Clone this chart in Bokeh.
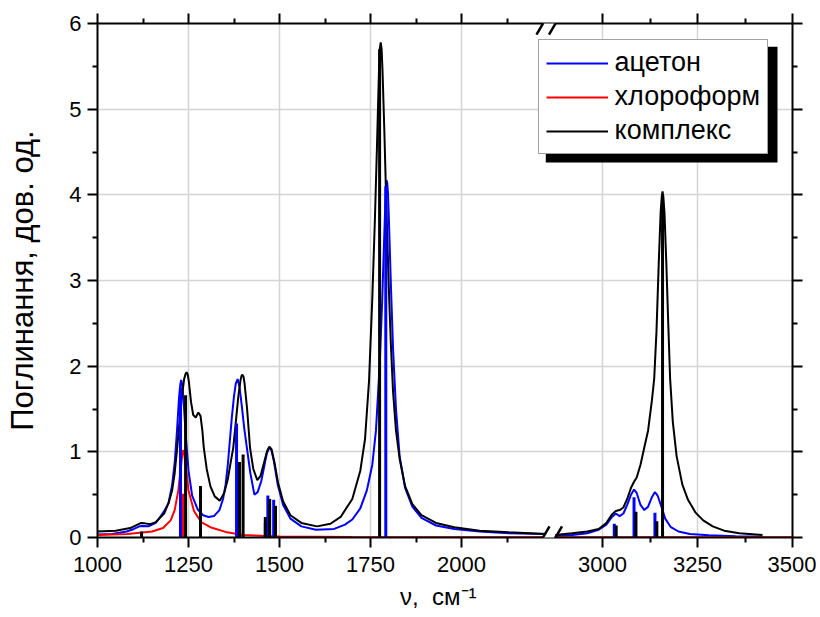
import numpy as np
from bokeh.plotting import figure
from bokeh.models import (FixedTicker, LinearAxis, Legend, LegendItem, BoxAnnotation,
                          Arrow, Range1d, CustomJSTickFormatter)
from bokeh.embed import file_html
from bokeh.resources import INLINE

# ---------------- data ----------------
acetone_x = [1000, 1040, 1080, 1100, 1115, 1125, 1140, 1160, 1174, 1185, 1195, 1205, 1212, 1218, 1224, 1227.5, 1230,
             1232.5, 1236, 1242, 1250, 1260, 1275, 1290, 1305, 1320, 1335, 1345, 1352, 1358, 1363, 1369, 1375, 1380,
             1385, 1390, 1396, 1403, 1411, 1420, 1431, 1440, 1450, 1458, 1465, 1472, 1478, 1485, 1495, 1510,
             1530, 1560, 1600, 1650, 1680, 1700, 1722, 1740, 1755, 1765, 1775, 1782, 1788, 1792, 1794, 1796, 1798,
             1801, 1806, 1812, 1820, 1830, 1845, 1865, 1890, 1930, 1980, 2050, 2130, 2231,
             2876, 2920, 2960, 2990, 3010, 3025, 3035, 3045, 3055, 3065, 3075, 3083, 3090, 3100, 3110, 3120,
             3130, 3138, 3145, 3155, 3165, 3180, 3200, 3230, 3280, 3350, 3421]
acetone_y = [0.035, 0.04, 0.07, 0.10, 0.13, 0.135, 0.13, 0.17, 0.25, 0.32, 0.40, 0.61, 0.87, 1.22, 1.63, 1.79, 1.84,
             1.79, 1.63, 1.22, 0.78, 0.49, 0.33, 0.26, 0.24, 0.25, 0.32, 0.45, 0.62, 0.85, 1.10, 1.40, 1.65, 1.80,
             1.85, 1.76, 1.55, 1.28, 1.03, 0.75, 0.50, 0.53, 0.66, 0.83, 0.98, 1.05, 1.02, 0.88, 0.62, 0.38,
             0.22, 0.13, 0.09, 0.10, 0.15, 0.21, 0.34, 0.55, 0.85, 1.25, 2.00, 2.75, 3.55, 4.05, 4.17, 4.14, 4.02,
             3.65, 2.95, 2.20, 1.50, 0.95, 0.58, 0.36, 0.23, 0.14, 0.10, 0.07, 0.05, 0.04,
             0.02, 0.03, 0.05, 0.09, 0.15, 0.24, 0.28, 0.25, 0.28, 0.38, 0.50, 0.56, 0.52, 0.38, 0.32, 0.36,
             0.47, 0.53, 0.49, 0.36, 0.22, 0.12, 0.07, 0.04, 0.025, 0.015, 0.01]

chloroform_x = [1000, 1082, 1150, 1180, 1201, 1212, 1222, 1230, 1233, 1235, 1238, 1242, 1250, 1265, 1285, 1310,
                1356, 1400, 1500, 1700, 2231, 2876, 3500]
chloroform_y = [0.03, 0.04, 0.07, 0.11, 0.20, 0.32, 0.55, 0.85, 0.98, 1.02, 0.98, 0.86, 0.55, 0.31, 0.18, 0.12,
                0.06, 0.03, 0.012, 0.006, 0.003, 0.002, 0.002]

complex_x = [1000, 1050, 1090, 1110, 1120, 1130, 1145, 1160, 1183, 1195, 1205, 1212, 1219, 1226, 1232, 1238,
             1242, 1245, 1248, 1251, 1257, 1263, 1270, 1277, 1283, 1288, 1292, 1300, 1310, 1322, 1336, 1348, 1358,
             1366, 1373, 1380, 1387, 1393, 1396, 1398, 1401, 1404, 1411, 1419, 1428, 1439, 1448, 1458, 1466, 1472,
             1478, 1486, 1496, 1510, 1530, 1560, 1603, 1640, 1668, 1700, 1722, 1735, 1746, 1755, 1762, 1768, 1773,
             1775.5, 1778, 1780.5, 1783, 1788, 1794, 1800, 1806, 1812, 1820, 1830, 1845, 1865, 1890, 1930, 1980,
             2050, 2130, 2231,
             2876, 2920, 2960, 2990, 3010, 3025, 3035, 3045, 3055, 3065, 3075, 3083, 3090, 3100, 3110, 3120,
             3130, 3136, 3142, 3148, 3153, 3156, 3158, 3160, 3163, 3168, 3173, 3178, 3185, 3195, 3210, 3225, 3245,
             3265, 3290, 3320, 3360, 3421]
complex_y = [0.07, 0.08, 0.11, 0.15, 0.17, 0.165, 0.155, 0.18, 0.28, 0.40, 0.55, 0.75, 1.05, 1.38, 1.65, 1.85,
             1.91, 1.93, 1.90, 1.82, 1.58, 1.43, 1.40, 1.46, 1.42, 1.25, 1.05, 0.80, 0.60, 0.48, 0.43, 0.52, 0.68,
             0.88, 1.05, 1.35, 1.65, 1.84, 1.89, 1.90, 1.88, 1.80, 1.50, 1.05, 0.80, 0.67, 0.72, 0.88, 1.01, 1.06,
             1.03, 0.88, 0.64, 0.42, 0.26, 0.17, 0.13, 0.16, 0.24, 0.45, 0.78, 1.15, 1.83, 2.80, 3.70, 4.60, 5.40,
             5.70, 5.78, 5.70, 5.45, 4.75, 3.80, 2.95, 2.25, 1.70, 1.25, 0.92, 0.60, 0.39, 0.26, 0.17, 0.12,
             0.08, 0.06, 0.04,
             0.03, 0.05, 0.07, 0.10, 0.17, 0.27, 0.31, 0.32, 0.35, 0.45, 0.58, 0.65, 0.70, 0.85, 1.05, 1.25,
             1.60, 1.85, 2.40, 3.20, 3.80, 3.98, 4.04, 3.98, 3.80, 3.20, 2.50, 1.85, 1.35, 0.95, 0.62, 0.44, 0.29,
             0.20, 0.13, 0.08, 0.05, 0.03]

# stick spectra (calculated line positions and intensities)
acetone_sticks_x = [1228, 1382, 1461, 1468, 1484, 1792, 3031, 3083, 3138]
acetone_sticks_h = [1.75, 1.33, 0.17, 0.49, 0.44, 4.10, 0.16, 0.47, 0.29]
chloroform_sticks_x = [1236]
chloroform_sticks_h = [0.51]
complex_sticks_x = [1121, 1242, 1283, 1390, 1400, 1461, 1473, 1489, 1775, 3036, 3088, 3143, 3158]
complex_sticks_h = [0.07, 1.66, 0.60, 0.88, 0.97, 0.24, 0.45, 0.37, 5.70, 0.14, 0.30, 0.19, 4.00]

series_names = ["ацетон", "хлороформ", "комплекс"]
series_colors = ["#0000ff", "#ff0000", "#000000"]

x_major = [1000, 1250, 1500, 1750, 2000, 3000, 3250, 3500]
x_minor = [1125, 1375, 1625, 1875, 2125, 3125, 3375]
y_major = [0, 1, 2, 3, 4, 5, 6]
y_minor = [0.5, 1.5, 2.5, 3.5, 4.5, 5.5]

x_title = "ν,\u00a0 см⁻¹"
y_title = "Поглинання, дов. од."

# ---------------- broken x scale ----------------
KL = 91.0 / 250.0     # left part (1000..2231)
KR = 95.0 / 250.0     # right part (2876..3500)
U3000 = 505.0
XBREAK = 2500.0


def bx(x):
    x = np.asarray(x, dtype=float)
    return np.where(x <= XBREAK, (x - 1000.0) * KL, U3000 + (x - 3000.0) * KR)


def broken_line(xs, ys):
    u = list(bx(xs))
    out_u, out_y = [], []
    for i, (a, b) in enumerate(zip(xs, ys)):
        if i > 0 and xs[i - 1] <= XBREAK < a:
            out_u.append(np.nan)
            out_y.append(np.nan)
        out_u.append(u[i])
        out_y.append(b)
    return out_u, out_y


FONT = "Liberation Sans"

p = figure(width=816, height=617, x_range=Range1d(0, 695), y_range=Range1d(0, 6),
           output_backend="svg", toolbar_location=None,
           min_border_left=97, min_border_right=24, min_border_top=23, min_border_bottom=80)
p.outline_line_color = None
p.background_fill_color = "white"

# ticks / grid
xt = FixedTicker(ticks=list(bx(x_major)), minor_ticks=list(bx(x_minor)))
yt = FixedTicker(ticks=y_major, minor_ticks=y_minor)
xfmt = CustomJSTickFormatter(args=dict(pos=list(bx(x_major)), labels=[str(v) for v in x_major]), code="""
    for (let i = 0; i < pos.length; i++) { if (Math.abs(pos[i] - tick) < 1e-6) return labels[i]; }
    return '';
""")
blank = CustomJSTickFormatter(code="return '';")


def style_axis(ax):
    ax.axis_line_width = 2
    ax.axis_line_color = "black"
    ax.major_tick_line_width = 2
    ax.minor_tick_line_width = 2
    ax.major_tick_in = 0
    ax.major_tick_out = 10
    ax.minor_tick_in = 0
    ax.minor_tick_out = 5
    ax.major_label_text_font = FONT
    ax.major_label_text_font_size = "22px"
    ax.major_label_text_color = "black"
    ax.axis_label_text_font = FONT
    ax.axis_label_text_font_style = "normal"
    ax.axis_label_text_color = "black"


xa = p.xaxis[0]
xa.ticker = xt
xa.formatter = xfmt
style_axis(xa)
xa.major_label_standoff = 9
xa.axis_label = x_title + "\u00a0\u00a0"
xa.axis_label_text_font_size = "24px"
xa.axis_label_standoff = 8

ya = p.yaxis[0]
ya.ticker = yt
style_axis(ya)
ya.major_label_standoff = 6
ya.axis_label = y_title
ya.axis_label_text_font_size = "31px"
ya.axis_label_standoff = 26

top = LinearAxis(ticker=xt, formatter=blank)
style_axis(top)
top.major_label_text_font_size = "1px"
top.major_label_standoff = 0
p.add_layout(top, "above")
right = LinearAxis(ticker=yt, formatter=blank)
style_axis(right)
right.major_label_text_font_size = "1px"
right.major_label_standoff = 0
p.add_layout(right, "right")

p.xgrid.ticker = xt
p.ygrid.ticker = yt
for g in (p.xgrid, p.ygrid):
    g.grid_line_color = "#d4d4d4"
    g.grid_line_width = 1.5

# curves
curves = [(acetone_x, acetone_y), (chloroform_x, chloroform_y), (complex_x, complex_y)]
renderers = []
for (cx, cy), col in zip(curves, series_colors):
    u, y = broken_line(cx, cy)
    renderers.append(p.line(u, y, line_color=col, line_width=2))

# sticks
for sx, sh, col in [(acetone_sticks_x, acetone_sticks_h, series_colors[0]),
                    (chloroform_sticks_x, chloroform_sticks_h, series_colors[1]),
                    (complex_sticks_x, complex_sticks_h, series_colors[2])]:
    u = list(bx(sx))
    p.segment(x0=u, y0=[0] * len(u), x1=u, y1=sh, line_color=col, line_width=3)

# axis break marks
for ybase in (0.0, 6.0):
    p.add_layout(BoxAnnotation(left=446, right=457, bottom=ybase - 0.04, top=ybase + 0.04,
                               fill_color="white", fill_alpha=1, line_color=None, level="overlay"))
for ybase in (0.0, 6.0):
    for uc in (445.5, 458.0):
        p.add_layout(Arrow(end=None, x_start=uc - 6.5, y_start=ybase - 0.13, x_end=uc + 6.5, y_end=ybase + 0.13,
                           line_color="black", line_width=2.5, level="overlay"))

# legend shadow
p.add_layout(BoxAnnotation(left=448.3, right=680.0, bottom=(537 - 162.3) / 85.6, top=(537 - 46.7) / 85.6,
                           fill_color="black", fill_alpha=1, line_color=None, level="glyph"))

legend = Legend(items=[LegendItem(label=n, renderers=[r]) for n, r in zip(series_names, renderers)],
                location=(440.6, 383))
legend.label_text_font = FONT
legend.label_text_font_size = "27px"
legend.label_text_color = "black"
legend.glyph_width = 62
legend.glyph_height = 30
legend.label_height = 30
legend.label_standoff = 7
legend.padding = 7
legend.spacing = 3
legend.margin = 0
legend.border_line_color = "#444444"
legend.border_line_width = 1
legend.background_fill_color = "white"
legend.background_fill_alpha = 1
p.add_layout(legend)

open("out.html", "w").write(file_html(p, INLINE))
